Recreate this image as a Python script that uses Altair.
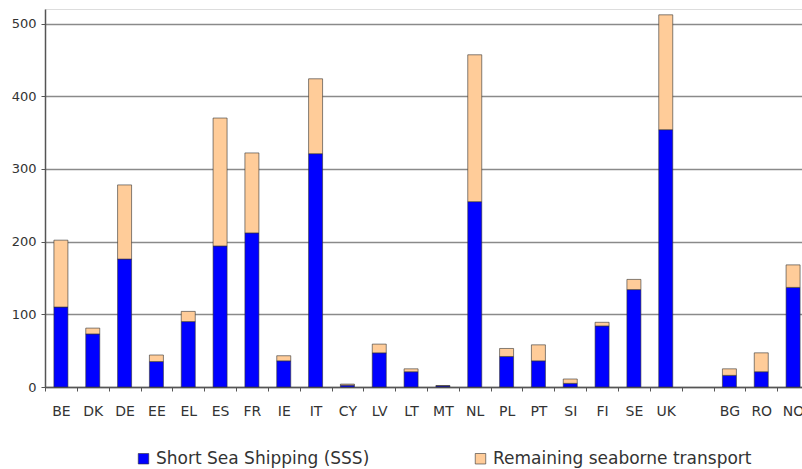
import altair as alt
import pandas as pd

countries = ["BE", "DK", "DE", "EE", "EL", "ES", "FR", "IE", "IT", "CY", "LV", "LT", "MT",
             "NL", "PL", "PT", "SI", "FI", "SE", "UK", "BG", "RO", "NO"]
sss = [110, 73, 176, 35, 90, 194, 212, 36, 321, 2.5, 47, 21, 1.5,
       255, 42, 36, 5, 84, 134, 354, 16, 21, 137]
remaining = [92, 8, 102, 9, 14, 176, 110, 7, 103, 1.5, 12, 4, 0.5,
             202, 11, 22, 6, 5, 14, 158, 9, 26, 31]
x_domain = countries[:20] + [" "] + countries[20:]
y_ticks = [0, 100, 200, 300, 400, 500]
series = ["Short Sea Shipping (SSS)", "Remaining seaborne transport"]

rows = []
for c, a, b in zip(countries, sss, remaining):
    rows.append({"country": c, "series": series[0], "value": a, "ord": 0})
    rows.append({"country": c, "series": series[1], "value": b, "ord": 1})
df = pd.DataFrame(rows)

font = "DejaVu Sans"

chart = alt.Chart(df).mark_bar(width=14, stroke="#333333", strokeWidth=0.6).encode(
    x=alt.X("country:N", sort=x_domain, title=None,
            scale=alt.Scale(domain=x_domain, paddingInner=0, paddingOuter=0, range=[0, 764]),
            axis=alt.Axis(labelAngle=0, tickBand="extent", tickSize=4, tickColor="#555555",
                          domainColor="#555555", domainWidth=1.5, labelFont=font,
                          labelFontSize=14, labelColor="#333333", labelPadding=13)),
    y=alt.Y("value:Q", stack="zero", title=None,
            scale=alt.Scale(domain=[0, 520], nice=False),
            axis=alt.Axis(values=y_ticks, grid=True, gridColor="#8a8a8a", gridWidth=1.3,
                          tickSize=4, tickColor="#555555", domainColor="#555555",
                          domainWidth=1.5, labelFont=font, labelFontSize=13,
                          labelColor="#333333", labelPadding=5)),
    color=alt.Color("series:N", scale=alt.Scale(domain=series, range=["#0000FF", "#FFCC99"]),
                    legend=alt.Legend(title=None, orient="none", legendX=90, legendY=441,
                                      direction="horizontal", symbolType="square",
                                      symbolSize=110, symbolStrokeColor="#333333",
                                      symbolStrokeWidth=0.6, labelFont=font,
                                      labelFontSize=17, labelColor="#333333",
                                      columnPadding=102, labelLimit=400)),
    order=alt.Order("ord:Q"),
).properties(
    width=757, height=378,
    autosize=alt.AutoSizeParams(type="none"),
    padding={"left": 45, "top": 9, "right": 0, "bottom": 82},
).configure_view(stroke=None).configure(background="white")

chart.save("out.html", embed_options={"renderer": "svg", "actions": False})
